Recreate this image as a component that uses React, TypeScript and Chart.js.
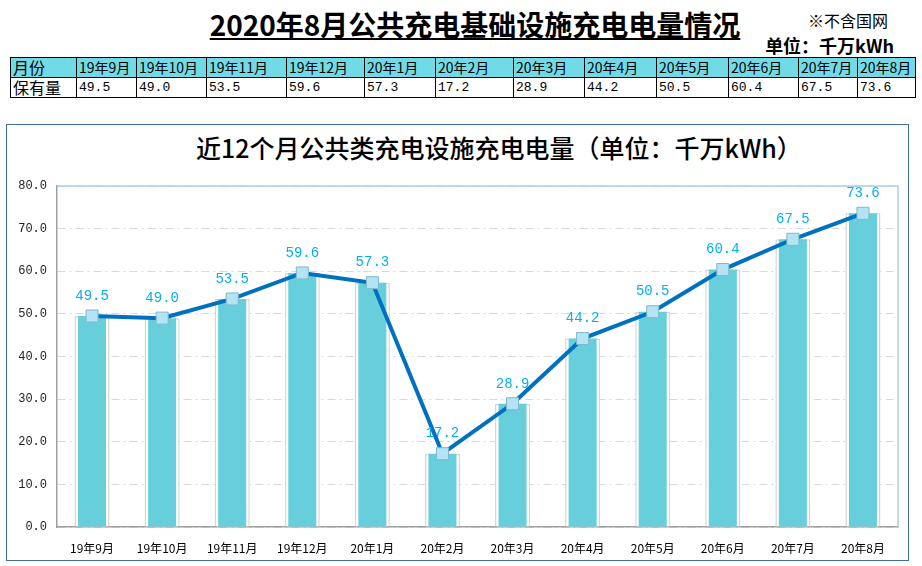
import React, { useEffect, useRef } from "react";
import Chart from "chart.js/auto";

const months = ["19年9月", "19年10月", "19年11月", "19年12月", "20年1月", "20年2月", "20年3月", "20年4月", "20年5月", "20年6月", "20年7月", "20年8月"];
const values = [49.5, 49.0, 53.5, 59.6, 57.3, 17.2, 28.9, 44.2, 50.5, 60.4, 67.5, 73.6];
const yMin = 0;
const yMax = 80;
const yStep = 10;

const mainTitle = "2020年8月公共充电基础设施充电电量情况";
const note = "※不含国网";
const unit = "单位：千万kWh";
const chartTitle = "近12个月公共类充电设施充电电量（单位：千万kWh）";
const rowHead = "月份";
const rowValue = "保有量";

const colEdges = [10, 76, 136, 206, 286, 364, 435, 513, 584, 656, 728, 798, 857, 915];

const CJK = '"Noto Sans CJK SC", "Noto Sans", sans-serif';
const MONO = '"Liberation Mono", "DejaVu Sans Mono", monospace';

export default function App() {
  const ref = useRef<HTMLCanvasElement | null>(null);

  useEffect(() => {
    const canvas = ref.current;
    if (!canvas) return;

    const plotBorder = {
      id: "plotBorder",
      beforeDatasetsDraw(chart: any) {
        const { ctx, chartArea } = chart;
        ctx.save();
        ctx.strokeStyle = "#A8CFE2";
        ctx.lineWidth = 1.5;
        ctx.beginPath();
        ctx.moveTo(chartArea.left, chartArea.top);
        ctx.lineTo(chartArea.right, chartArea.top);
        ctx.lineTo(chartArea.right, chartArea.bottom);
        ctx.stroke();
        ctx.restore();
      },
    };

    const labels = {
      id: "valueLabels",
      afterDatasetsDraw(chart: any) {
        const { ctx } = chart;
        const meta = chart.getDatasetMeta(2);
        ctx.save();
        ctx.fillStyle = "#00B0F0";
        ctx.font = `14px ${MONO}`;
        ctx.textAlign = "center";
        ctx.textBaseline = "middle";
        meta.data.forEach((pt: any, i: number) => {
          ctx.fillText(values[i].toFixed(1), pt.x, pt.y - 20);
        });
        ctx.restore();
      },
    };

    const chart = new Chart(canvas, {
      type: "bar",
      data: {
        labels: months,
        datasets: [
          {
            type: "bar",
            data: values,
            backgroundColor: "#FFFFFF",
            borderColor: "#D6D6D6",
            borderWidth: 1.5,
            barPercentage: 0.5,
            categoryPercentage: 1,
            grouped: false,
            order: 2,
          } as any,
          {
            type: "bar",
            data: values,
            backgroundColor: "#67CFDC",
            borderWidth: 0,
            barPercentage: 0.4,
            categoryPercentage: 1,
            grouped: false,
            order: 1,
          } as any,
          {
            type: "line",
            data: values,
            borderColor: "#0070C0",
            borderWidth: 4,
            tension: 0,
            pointStyle: "rect",
            pointRadius: 8.5,
            pointBackgroundColor: "#B4E4F4",
            pointBorderColor: "#7FB6CE",
            pointBorderWidth: 1,
            order: 0,
          } as any,
        ],
      },
      options: {
        animation: false,
        responsive: false,
        devicePixelRatio: 1,
        layout: { padding: { left: 0, right: 10, top: 60, bottom: 0 } },
        plugins: {
          legend: { display: false },
          tooltip: { enabled: false },
          title: { display: false },
        },
        scales: {
          x: {
            grid: { display: false },
            border: { color: "#A0A0A0", width: 1.5 },
            ticks: {
              color: "#000000",
              font: { family: CJK, size: 12 },
              maxRotation: 0,
              autoSkip: false,
              padding: 6,
            },
            afterFit(scale: any) {
              scale.height = 33;
            },
          },
          y: {
            min: yMin,
            max: yMax,
            grid: { color: "#D9D9D9", lineWidth: 1, drawTicks: false },
            border: { color: "#A0A0A0", width: 1.5, dash: [8, 4, 2, 4] },
            ticks: {
              stepSize: yStep,
              color: "#222222",
              font: { family: MONO, size: 12 },
              padding: 10,
              callback: (v: any) => Number(v).toFixed(1),
            },
            afterFit(scale: any) {
              scale.width = 49;
            },
          },
        },
      } as any,
      plugins: [plotBorder, labels],
    });

    return () => chart.destroy();
  }, []);

  const cellBase: React.CSSProperties = {
    position: "absolute",
    boxSizing: "border-box",
    border: "1px solid #000",
    height: 21,
    paddingLeft: 2,
    lineHeight: "19px",
    whiteSpace: "nowrap",
    overflow: "hidden",
    color: "#000",
  };

  return (
    <div style={{ position: "relative", width: 922, height: 566, background: "#FFFFFF", overflow: "hidden" }}>
      <style>{`body{margin:0;}`}</style>
      <div
        style={{
          position: "absolute",
          left: 75,
          top: 6,
          width: 800,
          textAlign: "center",
          fontFamily: CJK,
          fontWeight: 700,
          fontSize: 28,
          lineHeight: "36px",
          color: "#000",
        }}
      >
        <span style={{ textDecoration: "underline", textUnderlineOffset: 2, textDecorationThickness: 2 }}>{mainTitle}</span>
      </div>
      <div style={{ position: "absolute", left: 808, top: 9, fontFamily: CJK, fontSize: 16, lineHeight: "22px", color: "#000", whiteSpace: "nowrap" }}>
        {note}
      </div>
      <div
        style={{
          position: "absolute",
          right: 922 - 894,
          top: 33,
          fontFamily: CJK,
          fontWeight: 700,
          fontSize: 18,
          lineHeight: "24px",
          color: "#000",
          whiteSpace: "nowrap",
        }}
      >
        {unit}
      </div>

      {[rowHead, ...months].map((m, i) => (
        <div
          key={"h" + i}
          style={{
            ...cellBase,
            left: colEdges[i],
            top: 57,
            width: colEdges[i + 1] - colEdges[i] + 1,
            background: "#70DBE7",
            fontFamily: CJK,
            fontSize: i === 0 ? 16 : 14,
          }}
        >
          {m}
        </div>
      ))}
      {[rowValue, ...values.map((v) => v.toFixed(1))].map((t, i) => (
        <div
          key={"v" + i}
          style={{
            ...cellBase,
            left: colEdges[i],
            top: 77,
            width: colEdges[i + 1] - colEdges[i] + 1,
            background: "#FFFFFF",
            fontFamily: i === 0 ? CJK : MONO,
            fontSize: i === 0 ? 16 : 13,
          }}
        >
          {t}
        </div>
      ))}

      <div
        style={{
          position: "absolute",
          left: 6,
          top: 124,
          width: 903,
          height: 437,
          boxSizing: "border-box",
          border: "1.5px solid #3F6F9B",
        }}
      />
      <div
        style={{
          position: "absolute",
          left: 99,
          top: 130,
          width: 800,
          textAlign: "center",
          fontFamily: CJK,
          fontWeight: 500,
          fontSize: 25,
          lineHeight: "34px",
          color: "#000",
          whiteSpace: "nowrap",
        }}
      >
        {chartTitle}
      </div>
      <canvas ref={ref} width={900} height={434} style={{ position: "absolute", left: 8, top: 126, width: 900, height: 434 }} />
    </div>
  );
}
